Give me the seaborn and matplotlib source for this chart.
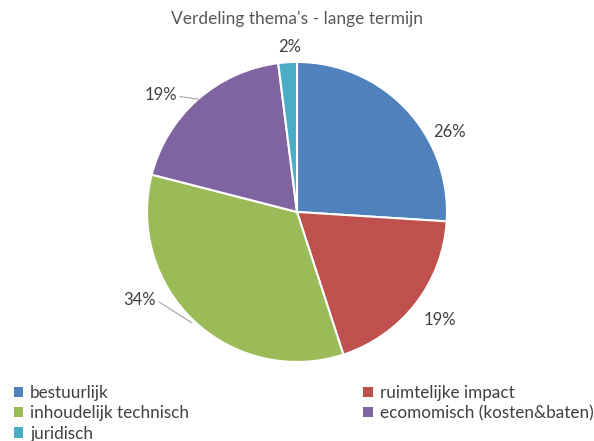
import matplotlib
matplotlib.use('Agg')
import matplotlib.pyplot as plt
from matplotlib.patches import Patch
import seaborn as sns

# data
categories = ['bestuurlijk', 'ruimtelijke impact', 'inhoudelijk technisch',
              'ecomomisch (kosten&baten)', 'juridisch']
shares = [26, 19, 34, 19, 2]
colors = ['#4F81BD', '#C0504D', '#9BBB59', '#8064A2', '#4BACC6']

# label placement (pie units, radius = 1) and optional leader line target
label_pos = [(1.02, 0.53), (0.95, -0.72), (-1.05, -0.59), (-0.91, 0.78), (-0.05, 1.10)]
leader_to = [None, None, (-0.70, -0.74), (-0.65, 0.75), None]

sns.set_theme(style='white')
plt.rcParams['font.family'] = ['Lato', 'DejaVu Sans']

fig = plt.figure(figsize=(5.94, 4.41), dpi=100)
ax = fig.add_axes([0, 0, 1, 1])

wedges, _ = ax.pie(shares, colors=colors, startangle=90, counterclock=False,
                   radius=1.0, wedgeprops=dict(edgecolor='white', linewidth=1.5))

for i, (val, (x, y)) in enumerate(zip(shares, label_pos)):
    ax.text(x, y, f'{val}%', ha='center', va='center', fontsize=12, color='#404040')
    if leader_to[i] is not None:
        x0 = x + 0.13
        ax.plot([x0, leader_to[i][0]], [y - 0.01, leader_to[i][1]],
                color='#A6A6A6', lw=0.8)

ax.set_xlim(-1.98, 1.98)
ax.set_ylim(-1.527, 1.413)
ax.set_aspect('auto')
ax.axis('off')

fig.text(0.5, 0.957, "Verdeling thema's - lange termijn", ha='center', va='center',
         fontsize=12.5, color='#595959')

order = [0, 2, 4, 1, 3]
handles = [Patch(facecolor=colors[i], edgecolor='none', label=categories[i]) for i in order]
fig.legend(handles=handles, loc='upper left', bbox_to_anchor=(0.012, 0.143), ncol=2,
           frameon=False, fontsize=12.3, labelcolor='#404040',
           handlelength=0.55, handleheight=0.55, handletextpad=0.4,
           columnspacing=10.2, labelspacing=0.26, borderaxespad=0)

fig.savefig('out.png', dpi=100, facecolor='white')
